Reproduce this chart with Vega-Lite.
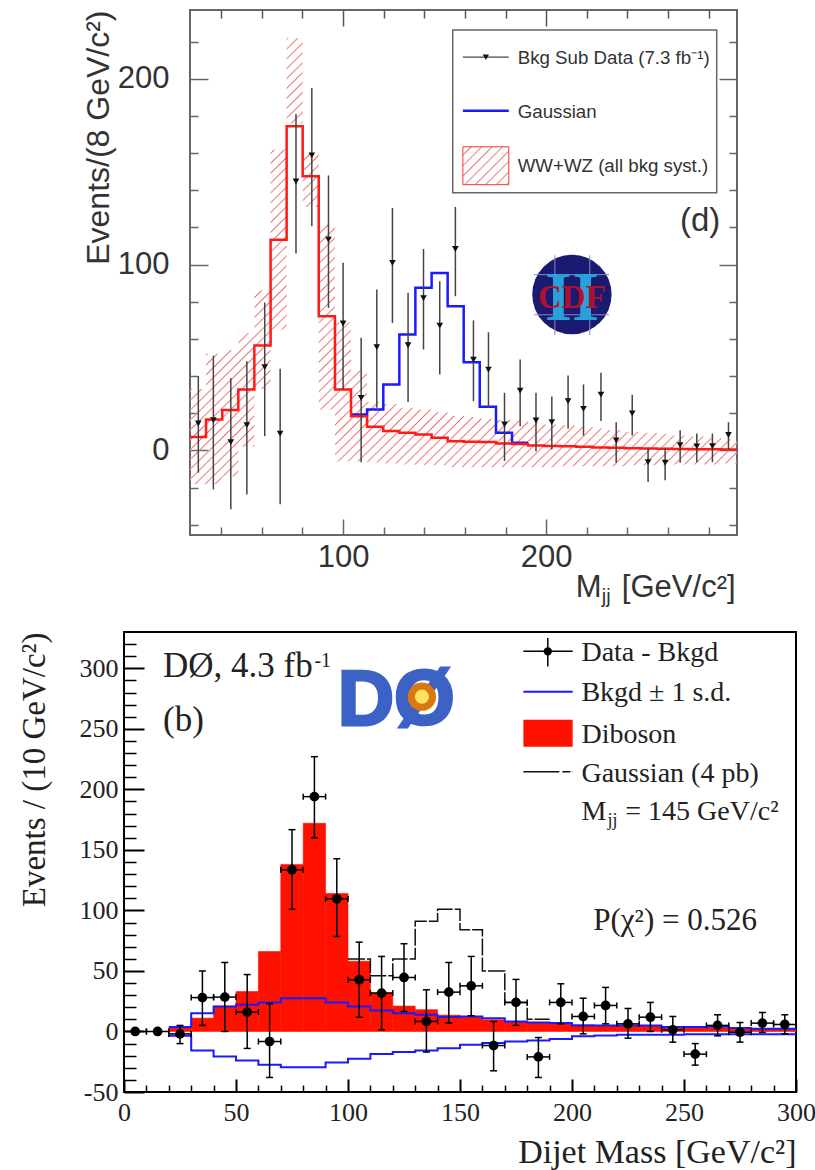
{"$schema":"https://vega.github.io/schema/vega-lite/v6.json","padding":{"left":16,"top":8,"right":0,"bottom":0},"autosize":{"type":"pad"},"background":"white","spacing":22,"config":{"axis":{"grid":false,"labelOverlap":false,"labelFlush":false,"titleFontWeight":"normal"},"view":{"stroke":null},"text":{"align":"left","baseline":"alphabetic"}},
"datasets":{
"t_hist":[{"x":24.6,"y":7.3},{"x":32.5,"y":16.7},{"x":40.5,"y":21.7},{"x":48.4,"y":32.8},{"x":56.3,"y":56.5},{"x":64.3,"y":113.4},{"x":72.2,"y":174.4},{"x":80.1,"y":147.5},{"x":88,"y":72.2},{"x":96,"y":32.8},{"x":103.9,"y":18.4},{"x":111.8,"y":12.7},{"x":119.8,"y":10.4},{"x":127.7,"y":9.5},{"x":135.6,"y":8.6},{"x":143.6,"y":6.8},{"x":151.5,"y":5},{"x":159.4,"y":4.7},{"x":167.3,"y":4.5},{"x":175.3,"y":3.7},{"x":183.2,"y":3.4},{"x":191.1,"y":2.7},{"x":199.1,"y":2.4},{"x":207,"y":2.2},{"x":214.9,"y":2},{"x":222.9,"y":1.6},{"x":230.8,"y":1.4},{"x":238.7,"y":1.2},{"x":246.6,"y":1},{"x":254.6,"y":0.9},{"x":262.5,"y":0.8},{"x":270.4,"y":0.7},{"x":278.4,"y":0.6},{"x":286.3,"y":0.5},{"x":294,"y":0.5}],
"t_gauss":[{"x":103.9,"y":19.4},{"x":111.8,"y":22},{"x":119.8,"y":35.5},{"x":127.7,"y":62.4},{"x":135.6,"y":87.5},{"x":143.6,"y":95.5},{"x":151.5,"y":77.6},{"x":159.4,"y":47.5},{"x":167.3,"y":23.5},{"x":175.3,"y":9.5},{"x":183.2,"y":4.1},{"x":191.1,"y":4.1}],
"t_band":[{"x":24.6,"y":33,"y2":-18},{"x":32.5,"y":52,"y2":-18},{"x":40.5,"y":54,"y2":-14},{"x":48.4,"y":63,"y2":2},{"x":56.3,"y":86,"y2":33},{"x":64.3,"y":162,"y2":65},{"x":72.2,"y":222,"y2":176},{"x":80.1,"y":160,"y2":131},{"x":88,"y":122,"y2":22},{"x":96,"y":69,"y2":-6},{"x":103.9,"y":43,"y2":-6},{"x":111.8,"y":26,"y2":-6.5},{"x":119.8,"y":25,"y2":-7},{"x":127.7,"y":23,"y2":-7.5},{"x":135.6,"y":22,"y2":-8},{"x":143.6,"y":20.5,"y2":-8},{"x":151.5,"y":18.5,"y2":-9},{"x":159.4,"y":18,"y2":-9},{"x":167.3,"y":17,"y2":-9},{"x":175.3,"y":16.5,"y2":-9},{"x":183.2,"y":16,"y2":-9},{"x":191.1,"y":15,"y2":-9},{"x":199.1,"y":14,"y2":-9},{"x":207,"y":13.5,"y2":-8.5},{"x":214.9,"y":13,"y2":-8.5},{"x":222.9,"y":12,"y2":-8.5},{"x":230.8,"y":11,"y2":-8.5},{"x":238.7,"y":10,"y2":-8},{"x":246.6,"y":9.5,"y2":-8},{"x":254.6,"y":9,"y2":-8},{"x":262.5,"y":8,"y2":-7.5},{"x":270.4,"y":7.5,"y2":-7.5},{"x":278.4,"y":7,"y2":-7.5},{"x":286.3,"y":6,"y2":-7},{"x":294,"y":6,"y2":-7}],
"t_data":[{"x":28.7,"y":14.5,"ylo":-12,"yhi":40},{"x":36.1,"y":16.3,"ylo":-21,"yhi":51},{"x":44.7,"y":4.5,"ylo":-31.7,"yhi":39},{"x":52.6,"y":13.6,"ylo":-23.7,"yhi":48},{"x":61.4,"y":44.8,"ylo":7.7,"yhi":79.6},{"x":69,"y":9.1,"ylo":-29,"yhi":44},{"x":76.8,"y":144.8,"ylo":106,"yhi":181},{"x":84.6,"y":158.8,"ylo":120.6,"yhi":195},{"x":92.8,"y":113.4,"ylo":76.7,"yhi":148},{"x":100,"y":68.3,"ylo":32.8,"yhi":101},{"x":108.9,"y":28.3,"ylo":-6.3,"yhi":60.6},{"x":116.6,"y":55.6,"ylo":23,"yhi":86.6},{"x":124.3,"y":100.9,"ylo":68.6,"yhi":130.5},{"x":132,"y":56.6,"ylo":26,"yhi":84.8},{"x":139.6,"y":82,"ylo":54.3,"yhi":108.4},{"x":147.6,"y":67.2,"ylo":40.9,"yhi":91},{"x":155.3,"y":108.4,"ylo":83,"yhi":131},{"x":164.2,"y":48.9,"ylo":26.5,"yhi":70},{"x":171.6,"y":43.5,"ylo":23,"yhi":63.6},{"x":179.5,"y":14,"ylo":-5.7,"yhi":31},{"x":187.2,"y":32.2,"ylo":13,"yhi":48.9},{"x":195,"y":16.1,"ylo":-0.4,"yhi":31},{"x":202.8,"y":15.2,"ylo":0.5,"yhi":29},{"x":210.8,"y":26.5,"ylo":11.7,"yhi":40.3},{"x":218.4,"y":22.4,"ylo":8,"yhi":35.5},{"x":227,"y":30,"ylo":15.8,"yhi":41.8},{"x":234.5,"y":5.4,"ylo":-6.6,"yhi":15.2},{"x":242.4,"y":19.9,"ylo":8,"yhi":30},{"x":250.2,"y":-6.3,"ylo":-17,"yhi":1.4},{"x":258.6,"y":-6.6,"ylo":-16,"yhi":1.4},{"x":266,"y":2.9,"ylo":-6.6,"yhi":10.9},{"x":274.2,"y":2.2,"ylo":-6.3,"yhi":9.1},{"x":281.9,"y":2.3,"ylo":-6.3,"yhi":9.1},{"x":289.8,"y":8.3,"ylo":0.2,"yhi":15.2}],
"b_red":[{"x":20,"x2":30,"y":3},{"x":30,"x2":40,"y":11},{"x":40,"x2":50,"y":21},{"x":50,"x2":60,"y":33},{"x":60,"x2":70,"y":66},{"x":70,"x2":80,"y":138},{"x":80,"x2":90,"y":172},{"x":90,"x2":100,"y":114},{"x":100,"x2":110,"y":58},{"x":110,"x2":120,"y":32},{"x":120,"x2":130,"y":21},{"x":130,"x2":140,"y":18},{"x":140,"x2":150,"y":13.5},{"x":150,"x2":160,"y":12},{"x":160,"x2":170,"y":9.7},{"x":170,"x2":180,"y":8},{"x":180,"x2":190,"y":7},{"x":190,"x2":200,"y":6.5},{"x":200,"x2":210,"y":5.5},{"x":210,"x2":220,"y":5},{"x":220,"x2":230,"y":4.5},{"x":230,"x2":240,"y":4.5},{"x":240,"x2":250,"y":4},{"x":250,"x2":260,"y":3.5},{"x":260,"x2":270,"y":3},{"x":270,"x2":280,"y":2.5},{"x":280,"x2":290,"y":2.5},{"x":290,"x2":300,"y":2}],
"b_bkg":[{"x":20,"up":3.6,"dn":-3.6},{"x":30,"up":15,"dn":-15.7},{"x":40,"up":20.7,"dn":-20.7},{"x":50,"up":22,"dn":-24},{"x":60,"up":24,"dn":-27.5},{"x":70,"up":27.5,"dn":-29.5},{"x":80,"up":27.5,"dn":-29.5},{"x":90,"up":24,"dn":-25.6},{"x":100,"up":20.7,"dn":-22.6},{"x":110,"up":17.4,"dn":-18.7},{"x":120,"up":15,"dn":-17},{"x":130,"up":13.8,"dn":-15.7},{"x":140,"up":12,"dn":-13.8},{"x":150,"up":12.4,"dn":-11},{"x":160,"up":11,"dn":-9.6},{"x":170,"up":8.3,"dn":-8.3},{"x":180,"up":7.4,"dn":-7.4},{"x":190,"up":6.9,"dn":-6.3},{"x":200,"up":5,"dn":-4},{"x":210,"up":5,"dn":-3.3},{"x":220,"up":5,"dn":-2.8},{"x":230,"up":5,"dn":-2.8},{"x":240,"up":3.6,"dn":-2.8},{"x":250,"up":3.6,"dn":-2.2},{"x":260,"up":4,"dn":-2.2},{"x":270,"up":2.8,"dn":-2.2},{"x":280,"up":2.2,"dn":-2.2},{"x":290,"up":2.2,"dn":-2.2},{"x":300,"up":2.2,"dn":-2.2}],
"b_gauss":[{"x":100,"y":59.8},{"x":110,"y":46},{"x":120,"y":59.8},{"x":130,"y":91},{"x":140,"y":101},{"x":150,"y":84},{"x":160,"y":50},{"x":170,"y":24},{"x":180,"y":10},{"x":190,"y":10}],
"b_data":[{"x":5,"y":0,"xlo":0,"xhi":10,"ylo":0,"yhi":0},{"x":15,"y":0,"xlo":10,"xhi":20,"ylo":0,"yhi":0},{"x":25,"y":-2,"xlo":20,"xhi":30,"ylo":-10,"yhi":5},{"x":35,"y":28,"xlo":30,"xhi":40,"ylo":5,"yhi":50},{"x":45,"y":28.4,"xlo":40,"xhi":50,"ylo":0,"yhi":57},{"x":55,"y":16,"xlo":50,"xhi":60,"ylo":-14,"yhi":47},{"x":65,"y":-8.3,"xlo":60,"xhi":70,"ylo":-38,"yhi":23},{"x":75,"y":133.6,"xlo":70,"xhi":80,"ylo":101,"yhi":166.7},{"x":85,"y":194,"xlo":80,"xhi":90,"ylo":160,"yhi":227},{"x":95,"y":109.6,"xlo":90,"xhi":100,"ylo":78.5,"yhi":142.7},{"x":105,"y":42.7,"xlo":100,"xhi":110,"ylo":11.8,"yhi":73.8},{"x":115,"y":31.7,"xlo":110,"xhi":120,"ylo":1.4,"yhi":62},{"x":125,"y":44.6,"xlo":120,"xhi":130,"ylo":16.5,"yhi":72.5},{"x":135,"y":8.3,"xlo":130,"xhi":140,"ylo":-17,"yhi":34.4},{"x":145,"y":32.5,"xlo":140,"xhi":150,"ylo":7,"yhi":57},{"x":155,"y":37.7,"xlo":150,"xhi":160,"ylo":13,"yhi":62},{"x":165,"y":-11.6,"xlo":160,"xhi":170,"ylo":-32.5,"yhi":8.3},{"x":175,"y":24,"xlo":170,"xhi":180,"ylo":5,"yhi":43},{"x":185,"y":-21,"xlo":180,"xhi":190,"ylo":-38,"yhi":-5},{"x":195,"y":24,"xlo":190,"xhi":200,"ylo":6.3,"yhi":39.4},{"x":205,"y":12.4,"xlo":200,"xhi":210,"ylo":-2,"yhi":27.5},{"x":215,"y":21.5,"xlo":210,"xhi":220,"ylo":6.3,"yhi":36.4},{"x":225,"y":6.3,"xlo":220,"xhi":230,"ylo":-5.5,"yhi":19},{"x":235,"y":11.8,"xlo":230,"xhi":240,"ylo":0,"yhi":24},{"x":245,"y":1.4,"xlo":240,"xhi":250,"ylo":-8.8,"yhi":12.4},{"x":255,"y":-18.7,"xlo":250,"xhi":260,"ylo":-27.8,"yhi":-10},{"x":265,"y":5,"xlo":260,"xhi":270,"ylo":-3.6,"yhi":13.8},{"x":275,"y":-0.6,"xlo":270,"xhi":280,"ylo":-8.8,"yhi":7.4},{"x":285,"y":6.9,"xlo":280,"xhi":290,"ylo":-0.8,"yhi":15.7},{"x":295,"y":5.8,"xlo":290,"xhi":300,"ylo":-2,"yhi":13.8}],
"one_t":[{"x":100,"y":0}],"one_b":[{"x":100,"y":0}]
},
"vconcat":[
{"bounds":"flush","spacing":0,"hconcat":[
{"width":66,"height":10,"data":{"values":[{"a":1}]},"mark":{"type":"point","opacity":0},"encoding":{}},
{"width":547,"height":525,"view":{"stroke":"#666","strokeWidth":2},
"encoding":{"x":{"field":"x","type":"quantitative","scale":{"domain":[24.6,294]},"axis":null},"y":{"field":"y","type":"quantitative","scale":{"domain":[-45.5,237]},"axis":null}},
"resolve":{"axis":{"x":"independent","y":"independent"}},
"layer":[
{"data":{"name":"t_band"},"mark":{"type":"area","interpolate":"step-after","clip":true,"fill":{"gradient":"linear","x1":0,"y1":0,"x2":1.085,"y2":0.897,"stops":[
{"offset":0,"color":"#fff0"},{"offset":0.006,"color":"#fff0"},{"offset":0.008,"color":"#e66"},{"offset":0.01,"color":"#fff0"},{"offset":0.016,"color":"#fff0"},{"offset":0.018,"color":"#e66"},{"offset":0.02,"color":"#fff0"},{"offset":0.026,"color":"#fff0"},{"offset":0.028,"color":"#e66"},{"offset":0.03,"color":"#fff0"},{"offset":0.036,"color":"#fff0"},{"offset":0.038,"color":"#e66"},{"offset":0.04,"color":"#fff0"},{"offset":0.046,"color":"#fff0"},{"offset":0.048,"color":"#e66"},{"offset":0.05,"color":"#fff0"},{"offset":0.056,"color":"#fff0"},{"offset":0.058,"color":"#e66"},{"offset":0.06,"color":"#fff0"},{"offset":0.066,"color":"#fff0"},{"offset":0.068,"color":"#e66"},{"offset":0.07,"color":"#fff0"},{"offset":0.076,"color":"#fff0"},{"offset":0.078,"color":"#e66"},{"offset":0.08,"color":"#fff0"},{"offset":0.086,"color":"#fff0"},{"offset":0.088,"color":"#e66"},{"offset":0.09,"color":"#fff0"},{"offset":0.096,"color":"#fff0"},{"offset":0.098,"color":"#e66"},
{"offset":0.1,"color":"#fff0"},{"offset":0.106,"color":"#fff0"},{"offset":0.108,"color":"#e66"},{"offset":0.11,"color":"#fff0"},{"offset":0.116,"color":"#fff0"},{"offset":0.118,"color":"#e66"},{"offset":0.12,"color":"#fff0"},{"offset":0.126,"color":"#fff0"},{"offset":0.128,"color":"#e66"},{"offset":0.13,"color":"#fff0"},{"offset":0.136,"color":"#fff0"},{"offset":0.138,"color":"#e66"},{"offset":0.14,"color":"#fff0"},{"offset":0.146,"color":"#fff0"},{"offset":0.148,"color":"#e66"},{"offset":0.15,"color":"#fff0"},{"offset":0.156,"color":"#fff0"},{"offset":0.158,"color":"#e66"},{"offset":0.16,"color":"#fff0"},{"offset":0.166,"color":"#fff0"},{"offset":0.168,"color":"#e66"},{"offset":0.17,"color":"#fff0"},{"offset":0.176,"color":"#fff0"},{"offset":0.178,"color":"#e66"},{"offset":0.18,"color":"#fff0"},{"offset":0.186,"color":"#fff0"},{"offset":0.188,"color":"#e66"},{"offset":0.19,"color":"#fff0"},{"offset":0.196,"color":"#fff0"},{"offset":0.198,"color":"#e66"},
{"offset":0.2,"color":"#fff0"},{"offset":0.206,"color":"#fff0"},{"offset":0.208,"color":"#e66"},{"offset":0.21,"color":"#fff0"},{"offset":0.216,"color":"#fff0"},{"offset":0.218,"color":"#e66"},{"offset":0.22,"color":"#fff0"},{"offset":0.226,"color":"#fff0"},{"offset":0.228,"color":"#e66"},{"offset":0.23,"color":"#fff0"},{"offset":0.236,"color":"#fff0"},{"offset":0.238,"color":"#e66"},{"offset":0.24,"color":"#fff0"},{"offset":0.246,"color":"#fff0"},{"offset":0.248,"color":"#e66"},{"offset":0.25,"color":"#fff0"},{"offset":0.256,"color":"#fff0"},{"offset":0.258,"color":"#e66"},{"offset":0.26,"color":"#fff0"},{"offset":0.266,"color":"#fff0"},{"offset":0.268,"color":"#e66"},{"offset":0.27,"color":"#fff0"},{"offset":0.276,"color":"#fff0"},{"offset":0.278,"color":"#e66"},{"offset":0.28,"color":"#fff0"},{"offset":0.286,"color":"#fff0"},{"offset":0.288,"color":"#e66"},{"offset":0.29,"color":"#fff0"},{"offset":0.296,"color":"#fff0"},{"offset":0.298,"color":"#e66"},
{"offset":0.3,"color":"#fff0"},{"offset":0.306,"color":"#fff0"},{"offset":0.308,"color":"#e66"},{"offset":0.31,"color":"#fff0"},{"offset":0.316,"color":"#fff0"},{"offset":0.318,"color":"#e66"},{"offset":0.32,"color":"#fff0"},{"offset":0.326,"color":"#fff0"},{"offset":0.328,"color":"#e66"},{"offset":0.33,"color":"#fff0"},{"offset":0.336,"color":"#fff0"},{"offset":0.338,"color":"#e66"},{"offset":0.34,"color":"#fff0"},{"offset":0.346,"color":"#fff0"},{"offset":0.348,"color":"#e66"},{"offset":0.35,"color":"#fff0"},{"offset":0.356,"color":"#fff0"},{"offset":0.358,"color":"#e66"},{"offset":0.36,"color":"#fff0"},{"offset":0.366,"color":"#fff0"},{"offset":0.368,"color":"#e66"},{"offset":0.37,"color":"#fff0"},{"offset":0.376,"color":"#fff0"},{"offset":0.378,"color":"#e66"},{"offset":0.38,"color":"#fff0"},{"offset":0.386,"color":"#fff0"},{"offset":0.388,"color":"#e66"},{"offset":0.39,"color":"#fff0"},{"offset":0.396,"color":"#fff0"},{"offset":0.398,"color":"#e66"},
{"offset":0.4,"color":"#fff0"},{"offset":0.406,"color":"#fff0"},{"offset":0.408,"color":"#e66"},{"offset":0.41,"color":"#fff0"},{"offset":0.416,"color":"#fff0"},{"offset":0.418,"color":"#e66"},{"offset":0.42,"color":"#fff0"},{"offset":0.426,"color":"#fff0"},{"offset":0.428,"color":"#e66"},{"offset":0.43,"color":"#fff0"},{"offset":0.436,"color":"#fff0"},{"offset":0.438,"color":"#e66"},{"offset":0.44,"color":"#fff0"},{"offset":0.446,"color":"#fff0"},{"offset":0.448,"color":"#e66"},{"offset":0.45,"color":"#fff0"},{"offset":0.456,"color":"#fff0"},{"offset":0.458,"color":"#e66"},{"offset":0.46,"color":"#fff0"},{"offset":0.466,"color":"#fff0"},{"offset":0.468,"color":"#e66"},{"offset":0.47,"color":"#fff0"},{"offset":0.476,"color":"#fff0"},{"offset":0.478,"color":"#e66"},{"offset":0.48,"color":"#fff0"},{"offset":0.486,"color":"#fff0"},{"offset":0.488,"color":"#e66"},{"offset":0.49,"color":"#fff0"},{"offset":0.496,"color":"#fff0"},{"offset":0.498,"color":"#e66"},
{"offset":0.5,"color":"#fff0"},{"offset":0.506,"color":"#fff0"},{"offset":0.508,"color":"#e66"},{"offset":0.51,"color":"#fff0"},{"offset":0.516,"color":"#fff0"},{"offset":0.518,"color":"#e66"},{"offset":0.52,"color":"#fff0"},{"offset":0.526,"color":"#fff0"},{"offset":0.528,"color":"#e66"},{"offset":0.53,"color":"#fff0"},{"offset":0.536,"color":"#fff0"},{"offset":0.538,"color":"#e66"},{"offset":0.54,"color":"#fff0"},{"offset":0.546,"color":"#fff0"},{"offset":0.548,"color":"#e66"},{"offset":0.55,"color":"#fff0"},{"offset":0.556,"color":"#fff0"},{"offset":0.558,"color":"#e66"},{"offset":0.56,"color":"#fff0"},{"offset":0.566,"color":"#fff0"},{"offset":0.568,"color":"#e66"},{"offset":0.57,"color":"#fff0"},{"offset":0.576,"color":"#fff0"},{"offset":0.578,"color":"#e66"},{"offset":0.58,"color":"#fff0"},{"offset":0.586,"color":"#fff0"},{"offset":0.588,"color":"#e66"},{"offset":0.59,"color":"#fff0"},{"offset":0.596,"color":"#fff0"},{"offset":0.598,"color":"#e66"},
{"offset":0.6,"color":"#fff0"},{"offset":0.606,"color":"#fff0"},{"offset":0.608,"color":"#e66"},{"offset":0.61,"color":"#fff0"},{"offset":0.616,"color":"#fff0"},{"offset":0.618,"color":"#e66"},{"offset":0.62,"color":"#fff0"},{"offset":0.626,"color":"#fff0"},{"offset":0.628,"color":"#e66"},{"offset":0.63,"color":"#fff0"},{"offset":0.636,"color":"#fff0"},{"offset":0.638,"color":"#e66"},{"offset":0.64,"color":"#fff0"},{"offset":0.646,"color":"#fff0"},{"offset":0.648,"color":"#e66"},{"offset":0.65,"color":"#fff0"},{"offset":0.656,"color":"#fff0"},{"offset":0.658,"color":"#e66"},{"offset":0.66,"color":"#fff0"},{"offset":0.666,"color":"#fff0"},{"offset":0.668,"color":"#e66"},{"offset":0.67,"color":"#fff0"},{"offset":0.676,"color":"#fff0"},{"offset":0.678,"color":"#e66"},{"offset":0.68,"color":"#fff0"},{"offset":0.686,"color":"#fff0"},{"offset":0.688,"color":"#e66"},{"offset":0.69,"color":"#fff0"},{"offset":0.696,"color":"#fff0"},{"offset":0.698,"color":"#e66"},
{"offset":0.7,"color":"#fff0"},{"offset":0.706,"color":"#fff0"},{"offset":0.708,"color":"#e66"},{"offset":0.71,"color":"#fff0"},{"offset":0.716,"color":"#fff0"},{"offset":0.718,"color":"#e66"},{"offset":0.72,"color":"#fff0"},{"offset":0.726,"color":"#fff0"},{"offset":0.728,"color":"#e66"},{"offset":0.73,"color":"#fff0"},{"offset":0.736,"color":"#fff0"},{"offset":0.738,"color":"#e66"},{"offset":0.74,"color":"#fff0"},{"offset":0.746,"color":"#fff0"},{"offset":0.748,"color":"#e66"},{"offset":0.75,"color":"#fff0"},{"offset":0.756,"color":"#fff0"},{"offset":0.758,"color":"#e66"},{"offset":0.76,"color":"#fff0"},{"offset":0.766,"color":"#fff0"},{"offset":0.768,"color":"#e66"},{"offset":0.77,"color":"#fff0"},{"offset":0.776,"color":"#fff0"},{"offset":0.778,"color":"#e66"},{"offset":0.78,"color":"#fff0"},{"offset":0.786,"color":"#fff0"},{"offset":0.788,"color":"#e66"},{"offset":0.79,"color":"#fff0"},{"offset":0.796,"color":"#fff0"},{"offset":0.798,"color":"#e66"},
{"offset":0.8,"color":"#fff0"},{"offset":0.806,"color":"#fff0"},{"offset":0.808,"color":"#e66"},{"offset":0.81,"color":"#fff0"},{"offset":0.816,"color":"#fff0"},{"offset":0.818,"color":"#e66"},{"offset":0.82,"color":"#fff0"},{"offset":0.826,"color":"#fff0"},{"offset":0.828,"color":"#e66"},{"offset":0.83,"color":"#fff0"},{"offset":0.836,"color":"#fff0"},{"offset":0.838,"color":"#e66"},{"offset":0.84,"color":"#fff0"},{"offset":0.846,"color":"#fff0"},{"offset":0.848,"color":"#e66"},{"offset":0.85,"color":"#fff0"},{"offset":0.856,"color":"#fff0"},{"offset":0.858,"color":"#e66"},{"offset":0.86,"color":"#fff0"},{"offset":0.866,"color":"#fff0"},{"offset":0.868,"color":"#e66"},{"offset":0.87,"color":"#fff0"},{"offset":0.876,"color":"#fff0"},{"offset":0.878,"color":"#e66"},{"offset":0.88,"color":"#fff0"},{"offset":0.886,"color":"#fff0"},{"offset":0.888,"color":"#e66"},{"offset":0.89,"color":"#fff0"},{"offset":0.896,"color":"#fff0"},{"offset":0.898,"color":"#e66"},
{"offset":0.9,"color":"#fff0"},{"offset":0.906,"color":"#fff0"},{"offset":0.908,"color":"#e66"},{"offset":0.91,"color":"#fff0"},{"offset":0.916,"color":"#fff0"},{"offset":0.918,"color":"#e66"},{"offset":0.92,"color":"#fff0"},{"offset":0.926,"color":"#fff0"},{"offset":0.928,"color":"#e66"},{"offset":0.93,"color":"#fff0"},{"offset":0.936,"color":"#fff0"},{"offset":0.938,"color":"#e66"},{"offset":0.94,"color":"#fff0"},{"offset":0.946,"color":"#fff0"},{"offset":0.948,"color":"#e66"},{"offset":0.95,"color":"#fff0"},{"offset":0.956,"color":"#fff0"},{"offset":0.958,"color":"#e66"},{"offset":0.96,"color":"#fff0"},{"offset":0.966,"color":"#fff0"},{"offset":0.968,"color":"#e66"},{"offset":0.97,"color":"#fff0"},{"offset":0.976,"color":"#fff0"},{"offset":0.978,"color":"#e66"},{"offset":0.98,"color":"#fff0"},{"offset":0.986,"color":"#fff0"},{"offset":0.988,"color":"#e66"},{"offset":0.99,"color":"#fff0"},{"offset":0.996,"color":"#fff0"},{"offset":0.998,"color":"#e66"},{"offset":1,"color":"#fff0"}
]}},"encoding":{"y2":{"field":"y2"}}},
{"data":{"name":"one_t"},"mark":{"type":"point","opacity":0},"encoding":{
"x":{"field":"x","type":"quantitative","scale":{"domain":[24.6,294]},"axis":{"orient":"bottom","values":[100,200],"tickSize":-16,"tickColor":"#666","tickWidth":1.5,"domain":false,"labelFont":"Liberation Sans","labelFontSize":31,"labelColor":"#333","labelPadding":23,"title":null}},
"y":{"field":"y","type":"quantitative","scale":{"domain":[-45.5,237]},"axis":{"orient":"left","values":[0,100,200],"tickSize":-18,"tickColor":"#666","tickWidth":1.5,"domain":false,"labelFont":"Liberation Sans","labelFontSize":31,"labelColor":"#333","labelPadding":39,"title":"Events/(8 GeV/c²)","titleFont":"Liberation Sans","titleFontSize":32,"titleColor":"#333","titleAnchor":"end","titlePadding":2}}}},
{"data":{"name":"one_t"},"mark":{"type":"point","opacity":0},"encoding":{
"x":{"field":"x","type":"quantitative","scale":{"domain":[24.6,294]},"axis":{"orient":"bottom","values":[40,60,80,120,140,160,180,220,240,260,280],"tickSize":-8,"tickColor":"#666","tickWidth":1.5,"domain":false,"labels":false,"title":null}},
"y":{"field":"y","type":"quantitative","scale":{"domain":[-45.5,237]},"axis":{"orient":"left","values":[-40,-20,20,40,60,80,120,140,160,180,220],"tickSize":-8,"tickColor":"#666","tickWidth":1.5,"domain":false,"labels":false,"title":null}}}},
{"data":{"name":"one_t"},"mark":{"type":"point","opacity":0},"encoding":{
"x":{"field":"x","type":"quantitative","scale":{"domain":[24.6,294]},"axis":{"orient":"top","values":[100,200],"tickSize":-16,"tickColor":"#555","tickWidth":1.5,"domain":false,"labels":false,"title":null}},
"y":{"field":"y","type":"quantitative","scale":{"domain":[-45.5,237]},"axis":{"orient":"right","values":[0,100,200],"tickSize":-18,"tickColor":"#666","tickWidth":1.5,"domain":false,"labels":false,"title":null}}}},
{"data":{"name":"one_t"},"mark":{"type":"point","opacity":0},"encoding":{
"x":{"field":"x","type":"quantitative","scale":{"domain":[24.6,294]},"axis":{"orient":"top","values":[40,60,80,120,140,160,180,220,240,260,280],"tickSize":-8,"tickColor":"#555","tickWidth":1.5,"domain":false,"labels":false,"title":null}},
"y":{"field":"y","type":"quantitative","scale":{"domain":[-45.5,237]},"axis":{"orient":"right","values":[-40,-20,20,40,60,80,120,140,160,180,220],"tickSize":-8,"tickColor":"#666","tickWidth":1.5,"domain":false,"labels":false,"title":null}}}},
{"data":{"name":"t_gauss"},"mark":{"type":"line","interpolate":"step-after","color":"#1a1aff","strokeWidth":2.5}},
{"data":{"name":"t_hist"},"mark":{"type":"line","interpolate":"step-after","color":"#ff1a1a","strokeWidth":2.5}},
{"data":{"name":"t_data"},"mark":{"type":"rule","color":"#444","strokeWidth":1.5},"encoding":{"y":{"field":"ylo","type":"quantitative","scale":{"domain":[-45.5,237]},"axis":null},"y2":{"field":"yhi"}}},
{"data":{"name":"t_data"},"mark":{"type":"point","shape":"triangle-down","filled":true,"color":"#111","size":45,"opacity":1}},
{"data":{"values":[{"x":154,"x2":284,"y":226.3,"y2":138.7}]},"mark":{"type":"rect","fill":"white","stroke":"#666","strokeWidth":1.5},"encoding":{"x2":{"field":"x2"},"y2":{"field":"y2"}}},
{"data":{"values":[{"x":159,"x2":181.6,"y":211.6}]},"mark":{"type":"rule","color":"#444","strokeWidth":1.2},"encoding":{"x2":{"field":"x2"}}},
{"data":{"values":[{"x":170.3,"y":211.6}]},"mark":{"type":"point","shape":"triangle-down","filled":true,"color":"#111","size":40,"opacity":1}},
{"data":{"values":[{"x":159,"x2":181.6,"y":182.8}]},"mark":{"type":"rule","color":"#1a1aff","strokeWidth":2.5},"encoding":{"x2":{"field":"x2"}}},
{"data":{"values":[{"x":159,"x2":181.6,"y":163.4,"y2":143}]},"mark":{"type":"rect","stroke":"#f33","strokeWidth":1,"fill":{"gradient":"linear","x1":0,"y1":0,"x2":1.084,"y2":0.895,"stops":[{"offset":0,"color":"#fff0"},{"offset":0.075,"color":"#fff0"},{"offset":0.1,"color":"#e77"},{"offset":0.125,"color":"#fff0"},{"offset":0.2,"color":"#fff0"},{"offset":0.225,"color":"#e77"},{"offset":0.25,"color":"#fff0"},{"offset":0.325,"color":"#fff0"},{"offset":0.35,"color":"#e77"},{"offset":0.375,"color":"#fff0"},{"offset":0.45,"color":"#fff0"},{"offset":0.475,"color":"#e77"},{"offset":0.5,"color":"#fff0"},{"offset":0.575,"color":"#fff0"},{"offset":0.6,"color":"#e77"},{"offset":0.625,"color":"#fff0"},{"offset":0.7,"color":"#fff0"},{"offset":0.725,"color":"#e77"},{"offset":0.75,"color":"#fff0"},{"offset":0.825,"color":"#fff0"},{"offset":0.85,"color":"#e77"},{"offset":0.875,"color":"#fff0"},{"offset":0.95,"color":"#fff0"},{"offset":0.975,"color":"#e77"},{"offset":1,"color":"#fff0"}]}},"encoding":{"x2":{"field":"x2"},"y2":{"field":"y2"}}},
{"data":{"values":[{"x":186,"y":208,"t":"Bkg Sub Data (7.3 fb⁻¹)"},{"x":186,"y":179,"t":"Gaussian"},{"x":186,"y":150,"t":"WW+WZ (all bkg syst.)"}]},"mark":{"type":"text","font":"Liberation Sans","fontSize":18.7,"color":"#333"},"encoding":{"text":{"field":"t"}}},
{"data":{"values":[{"x":265.9,"y":118,"t":"(d)"}]},"mark":{"type":"text","font":"Liberation Sans","fontSize":33,"color":"#333"},"encoding":{"text":{"field":"t"}}},
{"data":{"values":[{"x":212.7,"y":83.9}]},"mark":{"type":"point","shape":"circle","filled":true,"color":"#1a1a70","size":6300,"opacity":1}},
{"data":{"values":[{"x":204.3,"x2":204.3,"y":105,"y2":62},{"x":221.5,"x2":221.5,"y":105,"y2":62},{"x":194,"x2":231,"y":94.6,"y2":94.6},{"x":194,"x2":231,"y":73,"y2":73}]},"mark":{"type":"rule","color":"#8a8ac0","strokeWidth":1},"encoding":{"x2":{"field":"x2"},"y2":{"field":"y2"}}},
{"data":{"values":[{"x":212.7,"y":70.4,"t":"II"}]},"mark":{"type":"text","align":"center","font":"Liberation Serif","fontWeight":"bold","fontSize":70,"color":"#2b9fd8"},"encoding":{"text":{"field":"t"}}},
{"data":{"values":[{"x":212.7,"y":76.9,"t":"CDF"}]},"mark":{"type":"text","align":"center","font":"Liberation Serif","fontWeight":"bold","fontSize":33,"color":"#b01030"},"encoding":{"text":{"field":"t"}}},
{"data":{"values":[{"x":214.6,"y":-79,"t":"M"},{"x":237.3,"y":-79,"t":"[GeV/c²]"}]},"mark":{"type":"text","font":"Liberation Sans","fontSize":31,"color":"#333"},"encoding":{"text":{"field":"t"}}},
{"data":{"values":[{"x":227.4,"y":-82,"t":"jj"}]},"mark":{"type":"text","font":"Liberation Sans","fontSize":20,"color":"#333"},"encoding":{"text":{"field":"t"}}}
]}
]},
{"width":672,"height":460,"view":{"stroke":"#000","strokeWidth":2},
"encoding":{"x":{"field":"x","type":"quantitative","scale":{"domain":[0,300]},"axis":null},"y":{"field":"y","type":"quantitative","scale":{"domain":[-50,330]},"axis":null}},
"resolve":{"axis":{"x":"independent","y":"independent"}},
"layer":[
{"data":{"name":"one_b"},"mark":{"type":"point","opacity":0},"encoding":{
"x":{"field":"x","type":"quantitative","scale":{"domain":[0,300]},"axis":{"orient":"bottom","values":[0,50,100,150,200,250,300],"tickSize":-13,"tickColor":"#000","tickWidth":2,"domain":false,"labelFont":"Liberation Serif","labelFontSize":26,"labelColor":"#222","labelPadding":20,"title":"Dijet Mass [GeV/c²]","titleFont":"Liberation Serif","titleFontSize":34,"titleColor":"#222","titleAnchor":"end","titlePadding":10}},
"y":{"field":"y","type":"quantitative","scale":{"domain":[-50,330]},"axis":{"orient":"left","values":[-50,0,50,100,150,200,250,300],"tickSize":-20,"tickColor":"#000","tickWidth":2,"domain":false,"labelFont":"Liberation Serif","labelFontSize":26,"labelColor":"#222","labelPadding":26,"labelExpr":"toString(datum.value)","title":"Events / (10 GeV/c²)","titleFont":"Liberation Serif","titleFontSize":33,"titleColor":"#222","titleAnchor":"end","titlePadding":28}}}},
{"data":{"name":"one_b"},"mark":{"type":"point","opacity":0},"encoding":{
"x":{"field":"x","type":"quantitative","scale":{"domain":[0,300]},"axis":{"orient":"bottom","values":[10,20,30,40,60,70,80,90,110,120,130,140,160,170,180,190,210,220,230,240,260,270,280,290],"tickSize":-7,"tickColor":"#000","tickWidth":1.5,"domain":false,"labels":false,"title":null}},
"y":{"field":"y","type":"quantitative","scale":{"domain":[-50,330]},"axis":{"orient":"left","values":[-40,-30,-20,-10,10,20,30,40,60,70,80,90,110,120,130,140,160,170,180,190,210,220,230,240,260,270,280,290,310,320],"tickSize":-12,"tickColor":"#000","tickWidth":1.5,"domain":false,"labels":false,"title":null}}}},
{"data":{"name":"b_red"},"mark":{"type":"rect","color":"#ff1100","stroke":"#ff1100","strokeWidth":0.6},"encoding":{"x2":{"field":"x2"},"y2":{"datum":0}}},
{"data":{"name":"b_bkg"},"mark":{"type":"line","interpolate":"step-after","color":"#1a1aff","strokeWidth":2},"encoding":{"y":{"field":"up","type":"quantitative","scale":{"domain":[-50,330]},"axis":null}}},
{"data":{"name":"b_bkg"},"mark":{"type":"line","interpolate":"step-after","color":"#1a1aff","strokeWidth":2},"encoding":{"y":{"field":"dn","type":"quantitative","scale":{"domain":[-50,330]},"axis":null}}},
{"data":{"name":"b_gauss"},"mark":{"type":"line","interpolate":"step-after","color":"#111","strokeWidth":1.5,"strokeDash":[17,2]}},
{"data":{"name":"b_data"},"mark":{"type":"rule","color":"#000","strokeWidth":1.5},"encoding":{"y":{"field":"ylo","type":"quantitative","scale":{"domain":[-50,330]},"axis":null},"y2":{"field":"yhi"}}},
{"data":{"name":"b_data"},"mark":{"type":"rule","color":"#000","strokeWidth":1.5},"encoding":{"x":{"field":"xlo","type":"quantitative","scale":{"domain":[0,300]},"axis":null},"x2":{"field":"xhi"}}},
{"data":{"name":"b_data"},"mark":{"type":"tick","orient":"horizontal","size":7,"thickness":1.5,"color":"#000","opacity":1},"encoding":{"y":{"field":"ylo","type":"quantitative","scale":{"domain":[-50,330]},"axis":null}}},
{"data":{"name":"b_data"},"mark":{"type":"tick","orient":"horizontal","size":7,"thickness":1.5,"color":"#000","opacity":1},"encoding":{"y":{"field":"yhi","type":"quantitative","scale":{"domain":[-50,330]},"axis":null}}},
{"data":{"name":"b_data"},"mark":{"type":"tick","orient":"vertical","size":6,"thickness":1.5,"color":"#000","opacity":1},"encoding":{"x":{"field":"xlo","type":"quantitative","scale":{"domain":[0,300]},"axis":null}}},
{"data":{"name":"b_data"},"mark":{"type":"tick","orient":"vertical","size":6,"thickness":1.5,"color":"#000","opacity":1},"encoding":{"x":{"field":"xhi","type":"quantitative","scale":{"domain":[0,300]},"axis":null}}},
{"data":{"name":"b_data"},"mark":{"type":"point","shape":"circle","filled":true,"color":"#000","size":95,"opacity":1}},
{"data":{"values":[{"x":17.4,"y":293,"t":"DØ, 4.3 fb"},{"x":17.4,"y":248,"t":"(b)"}]},"mark":{"type":"text","font":"Liberation Serif","fontSize":35,"color":"#222"},"encoding":{"text":{"field":"t"}}},
{"data":{"values":[{"x":85,"y":301,"t":"-1"}]},"mark":{"type":"text","font":"Liberation Serif","fontSize":20,"color":"#222"},"encoding":{"text":{"field":"t"}}},
{"data":{"values":[{"x":121.5,"y":253.5,"t":"DØ"}]},"mark":{"type":"text","align":"center","font":"Liberation Sans","fontWeight":"bold","fontSize":78,"color":"#3b62c4","stroke":"#3b62c4","strokeWidth":3},"encoding":{"text":{"field":"t"}}},
{"data":{"values":[{"x":133,"y":276.6}]},"mark":{"type":"point","shape":"circle","filled":true,"color":"#d9780f","size":800,"opacity":1}},
{"data":{"values":[{"x":133,"y":276.6}]},"mark":{"type":"point","shape":"circle","filled":true,"color":"#ffe060","size":200,"opacity":1}},
{"data":{"values":[{"x":178.3,"x2":200.3,"y":314}]},"mark":{"type":"rule","color":"#000","strokeWidth":1.5},"encoding":{"x2":{"field":"x2"}}},
{"data":{"values":[{"x":189.2,"y":325,"y2":301.4}]},"mark":{"type":"rule","color":"#000","strokeWidth":1.5},"encoding":{"y2":{"field":"y2"}}},
{"data":{"values":[{"x":189.2,"y":314}]},"mark":{"type":"point","shape":"circle","filled":true,"color":"#000","size":70,"opacity":1}},
{"data":{"values":[{"x":178.3,"x2":200.3,"y":280.7}]},"mark":{"type":"rule","color":"#1a1aff","strokeWidth":2},"encoding":{"x2":{"field":"x2"}}},
{"data":{"values":[{"x":178.3,"x2":200.3,"y":257.6,"y2":235.3}]},"mark":{"type":"rect","color":"#ff1100"},"encoding":{"x2":{"field":"x2"},"y2":{"field":"y2"}}},
{"data":{"values":[{"x":178.3,"x2":200.3,"y":214.6}]},"mark":{"type":"rule","color":"#111","strokeWidth":1.5,"strokeDash":[36,3,8,2]},"encoding":{"x2":{"field":"x2"}}},
{"data":{"values":[{"x":204.2,"y":306,"t":"Data - Bkgd"},{"x":204.2,"y":273,"t":"Bkgd ± 1 s.d."},{"x":204.2,"y":238.6,"t":"Diboson"},{"x":204.2,"y":206.4,"t":"Gaussian (4 pb)"},{"x":204.2,"y":175,"t":"M"},{"x":223.8,"y":175,"t":"= 145 GeV/c²"}]},"mark":{"type":"text","font":"Liberation Serif","fontSize":28,"color":"#222"},"encoding":{"text":{"field":"t"}}},
{"data":{"values":[{"x":215.8,"y":170,"t":"jj"}]},"mark":{"type":"text","font":"Liberation Serif","fontSize":18,"color":"#222"},"encoding":{"text":{"field":"t"}}},
{"data":{"values":[{"x":209.5,"y":84,"t":"P(χ²) = 0.526"}]},"mark":{"type":"text","font":"Liberation Serif","fontSize":31,"color":"#222"},"encoding":{"text":{"field":"t"}}}
]}
]}
